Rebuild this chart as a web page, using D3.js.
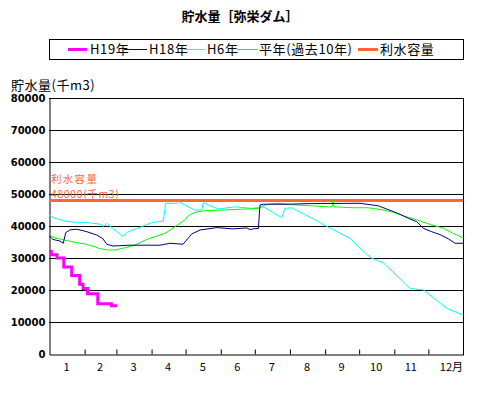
<!DOCTYPE html>
<html>
<head>
<meta charset="utf-8">
<script src="https://cdn.jsdelivr.net/npm/d3@7"></script>
<style>
  body { margin: 0; background: #fff; }
  text { font-family: "Noto Sans CJK JP", "DejaVu Sans", sans-serif; }
</style>
</head>
<body>
<div id="chart"></div>
<script>
// month lengths and labels
var monthDays = [31, 28, 31, 30, 31, 30, 31, 31, 30, 31, 30, 31]
var monthLabels = ["1", "2", "3", "4", "5", "6", "7", "8", "9", "10", "11", "12月"]
var yTicks = [0, 10000, 20000, 30000, 40000, 50000, 60000, 70000, 80000]

// storage (千m3) by day of year
var h19 = [[0, 32000], [2, 31000], [7, 30000], [13, 27200], [20, 24500], [27, 21800], [30, 20500],
  [34, 18800], [43, 15700], [55, 15100], [60, 15100]]

var h18 = [[0, 37000], [3.5, 35800], [9.7, 35300], [12.6, 34600], [14.7, 37900], [18.5, 38800],
  [24.4, 39000], [32.6, 38300], [42, 37200], [47.6, 36000], [50.9, 34300], [56.4, 33750],
  [71.4, 34000], [97.9, 34000], [106.7, 34600], [118.2, 34300], [125.8, 37500], [133.2, 38750],
  [147.9, 39500], [162.3, 39100], [174.3, 39400], [177.2, 38900], [181.7, 39200], [184.6, 39200],
  [186, 46600], [189, 46800], [210.8, 46800], [230.2, 47000], [274.3, 47100], [290.4, 46300],
  [296.3, 45500], [302.2, 44700], [309.5, 43650], [316.8, 42400], [324.2, 41350], [330, 39300],
  [337.5, 38200], [344.8, 37300], [352.1, 36000], [358, 34600], [365, 34600]]

var h6 = [[0, 43400], [5.3, 42400], [14.1, 41550], [22.9, 41150], [31.7, 41150], [46.5, 40500],
  [47.9, 39800], [50.9, 40800], [55.3, 39500], [65.5, 36700], [68.5, 38000], [81.7, 39800],
  [90.6, 41050], [100.8, 41550], [102.9, 47100], [112.6, 47100], [114, 47600], [124.3, 45700],
  [128.7, 45000], [134.7, 45000], [136.1, 47400], [142, 46300], [149.3, 45300], [164, 46000],
  [178.7, 45500], [189, 46000], [205.2, 42600], [208.1, 45500], [214, 45700], [235.4, 41750],
  [246.3, 39600], [265.4, 36150], [280.2, 31150], [284.6, 29900], [294.8, 28500], [318.3, 20500],
  [330.1, 20000], [350.7, 14300], [358, 13200], [365, 12200]]

var normal = [[0, 37200], [5.3, 36300], [14.1, 35600], [22.9, 34900], [31.7, 34400], [40.6, 33500],
  [43.5, 33000], [52.3, 32500], [58.2, 32500], [67, 33200], [75.8, 34000], [84.7, 35600],
  [93.5, 36700], [102.3, 37700], [111.1, 39800], [119.9, 41900], [122.8, 43200], [128.7, 44300],
  [137.6, 44800], [155.2, 45000], [172.8, 45300], [184.6, 45500], [190.5, 46600], [200.8, 47100],
  [216.9, 46600], [246.3, 46000], [249.6, 46000], [250.2, 48400], [251.3, 46000], [268.3, 45700],
  [281.6, 45700], [294.8, 45000], [303.6, 44300], [312.4, 43200], [324.3, 41900], [336, 40500],
  [347.7, 39300], [356.5, 37700], [365, 36300]]

var capacity = 48000

var width = 487
    height = 393

var svg = d3.select("#chart")
  .append("svg")
    .attr("width", width)
    .attr("height", height)

var x = d3.scaleLinear().domain([0, 365]).range([49, 463])
var y = d3.scaleLinear().domain([0, 80000]).range([354, 98])

// month boundaries
var bounds = d3.cumsum(monthDays)
var starts = [0].concat(Array.from(bounds).slice(0, 11))

// title
svg.append("text")
  .attr("x", 240).attr("y", 21)
  .attr("text-anchor", "middle")
  .style("font-size", "13px").style("font-weight", "bold")
  .text("貯水量［弥栄ダム］")

// legend
svg.append("rect")
  .attr("x", 49.5).attr("y", 39.5).attr("width", 414).attr("height", 20)
  .attr("fill", "none").attr("stroke", "#000")

var legendItems = [
  {label: "H19年", color: "#ff00ff", w: 3, x1: 68, x2: 87, tx: 90},
  {label: "H18年", color: "#000080", w: 1, x1: 124, x2: 147, tx: 149},
  {label: "H6年", color: "#00ffff", w: 1, x1: 184, x2: 205, tx: 207},
  {label: "平年(過去10年)", color: "#00ff00", w: 1, x1: 237, x2: 257, tx: 259},
  {label: "利水容量", color: "#ff6633", w: 3, x1: 358, x2: 378, tx: 380}
]
var lg = svg.selectAll(".lg").data(legendItems).enter().append("g")
lg.append("line")
  .attr("x1", d => d.x1).attr("x2", d => d.x2)
  .attr("y1", 49.5).attr("y2", 49.5)
  .attr("stroke", d => d.color).attr("stroke-width", d => d.w)
lg.append("text")
  .attr("x", d => d.tx).attr("y", 54)
  .style("font-size", "13px").style("letter-spacing", "0.6px")
  .text(d => d.label)

// y axis title
svg.append("text")
  .attr("x", 11).attr("y", 90)
  .style("font-size", "13px").style("letter-spacing", "0.5px")
  .text("貯水量(千m3)")

// horizontal grid
svg.append("g")
  .selectAll("line")
  .data(yTicks.slice(1))
  .enter().append("line")
    .attr("x1", 49).attr("x2", 463)
    .attr("y1", d => Math.round(y(d)) + 0.5).attr("y2", d => Math.round(y(d)) + 0.5)
    .attr("stroke", "#000")

// y axis
var yAxis = svg.append("g")
  .attr("transform", "translate(49.5,0.5)")
  .call(d3.axisLeft(y).tickValues(yTicks).tickSize(0).tickPadding(4).tickFormat(d3.format("d")))
yAxis.select(".domain").attr("stroke", "#000")
yAxis.selectAll("text")
  .style("font-family", "DejaVu Sans").style("font-size", "10px").style("font-weight", "bold").attr("fill", "#000")

// right border
svg.append("line")
  .attr("x1", 463.5).attr("x2", 463.5).attr("y1", 98).attr("y2", 355)
  .attr("stroke", "#000")

// x axis with inward ticks at month boundaries
var xAxis = svg.append("g")
  .attr("transform", "translate(0.5," + (354.5) + ")")
  .call(d3.axisBottom(x).tickValues(Array.from(bounds).slice(0, 11)).tickSizeInner(-5).tickSizeOuter(0).tickFormat(""))
xAxis.select(".domain").attr("stroke", "#000")
xAxis.selectAll(".tick line").attr("stroke", "#000")

svg.append("g")
  .selectAll("text")
  .data(monthLabels)
  .enter().append("text")
    .attr("x", (d, i) => x(starts[i] + monthDays[i] / 2) + (i == 11 ? 6 : 0))
    .attr("y", 371)
    .attr("text-anchor", "middle")
    .style("font-size", "11px")
    .text(d => d)

// capacity line
svg.append("line")
  .attr("x1", x(0)).attr("x2", x(365))
  .attr("y1", y(capacity)).attr("y2", y(capacity))
  .attr("stroke", "#ff6633").attr("stroke-width", 3)

// capacity note
svg.append("text")
  .attr("x", 51).attr("y", 183)
  .style("font-size", "10.5px").style("letter-spacing", "1.3px").attr("fill", "#ff6633")
  .text("利水容量")
svg.append("text")
  .attr("x", 51).attr("y", 198)
  .style("font-size", "10.5px").style("letter-spacing", "0.6px").attr("fill", "#ff6633")
  .text(d3.format("d")(capacity) + "(千m3)")

// series lines
var line = d3.line().x(d => x(d[0])).y(d => y(d[1]))

var series = [
  {data: h6, color: "#00ffff", w: 1, curve: d3.curveLinear},
  {data: normal, color: "#00ff00", w: 1, curve: d3.curveLinear},
  {data: h18, color: "#000080", w: 1, curve: d3.curveLinear},
  {data: h19, color: "#ff00ff", w: 3, curve: d3.curveStepAfter}
]
svg.selectAll(".series")
  .data(series)
  .enter().append("path")
    .attr("d", d => line.curve(d.curve)(d.data))
    .attr("fill", "none")
    .attr("stroke", d => d.color)
    .attr("stroke-width", d => d.w)
</script>
</body>
</html>
